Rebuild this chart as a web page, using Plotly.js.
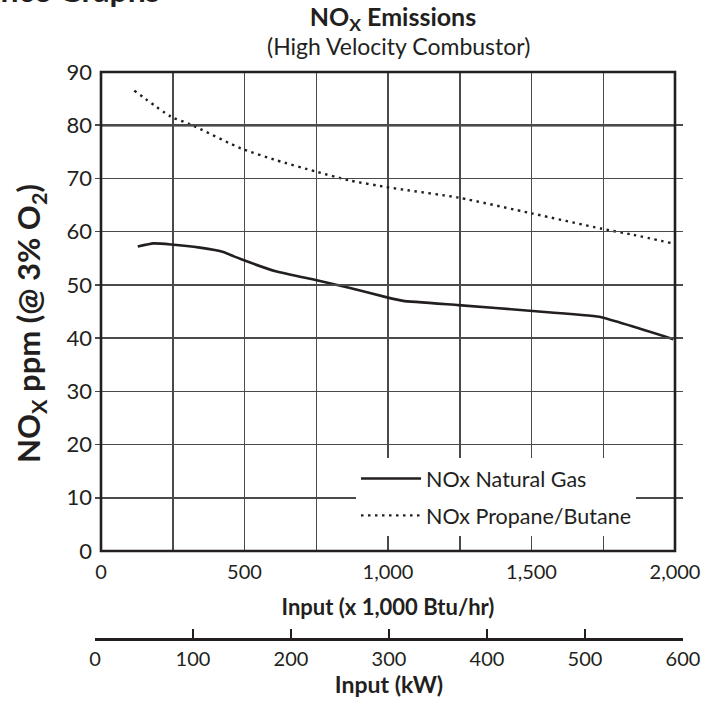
<!DOCTYPE html>
<html>
<head>
<meta charset="utf-8">
<script src="https://cdn.plot.ly/plotly-3.0.1.min.js"></script>
<style>html,body{margin:0;padding:0;background:#fff;}#chart{width:721px;height:704px;}</style>
</head>
<body>
<div id="chart"></div>
<script>
// ---- Data ----
const inputNaturalGas = [128, 182, 244, 345, 426, 461, 489, 612, 748, 868, 993, 1053, 1245, 1504, 1736, 1994];
const noxNaturalGas   = [57.2, 57.8, 57.6, 57.0, 56.2, 55.4, 54.8, 52.5, 50.9, 49.4, 47.7, 47.0, 46.2, 45.1, 44.0, 39.8];

const inputPropane = [116, 244, 310, 489, 612, 748, 868, 993, 1053, 1245, 1504, 1741, 1855, 1992];
const noxPropane   = [86.5, 81.6, 80.2, 75.6, 73.4, 71.3, 69.6, 68.4, 67.9, 66.4, 63.4, 60.6, 59.4, 57.8];

const btuTickVals  = [0, 500, 1000, 1500, 2000];
const btuTickText  = ['0', '500', '1,000', '1,500', '2,000'];
const kwTickVals   = [0, 100, 200, 300, 400, 500, 600];
const kwTickText   = ['0', '100', '200', '300', '400', '500', '600'];
const noxTickVals  = [0, 10, 20, 30, 40, 50, 60, 70, 80, 90];

const seriesNames = ['NOx Natural Gas', 'NOx Propane/Butane'];
const emphasisLevel = 80;

// ---- Styling ----
const ink = '#231f20';
const gridColor = '#4a4a4a';
const FONT = 'Lato, "Open Sans", sans-serif';

const traces = [
  {
    x: inputNaturalGas, y: noxNaturalGas, name: seriesNames[0], legendgroup: 'a',
    mode: 'lines', line: {color: ink, width: 2.6, shape: 'spline', smoothing: 0.35},
    xaxis: 'x', yaxis: 'y', hoverinfo: 'skip'
  },
  {
    x: inputPropane, y: noxPropane, name: seriesNames[1], legendgroup: 'b',
    mode: 'lines', line: {color: ink, width: 2.4, dash: '2.5px,4.5px', shape: 'spline', smoothing: 0.6},
    xaxis: 'x', yaxis: 'y', hoverinfo: 'skip'
  },
  {
    x: [kwTickVals[0], kwTickVals[kwTickVals.length - 1]], y: [null, null],
    xaxis: 'x2', yaxis: 'y', mode: 'lines', showlegend: false, hoverinfo: 'skip'
  }
];

const layout = {
  width: 721, height: 704,
  margin: {l: 95, r: 38, t: 72, b: 65, pad: 0},
  paper_bgcolor: '#ffffff', plot_bgcolor: 'rgba(0,0,0,0)',
  font: {family: FONT, color: ink, size: 20},
  showlegend: true,
  title: {
    text: '<b>NO<sub>X</sub> Emissions</b>',
    font: {family: FONT, size: 25, color: ink},
    x: (393 - 95) / 588, xref: 'paper', xanchor: 'center',
    y: 1 - 17 / 704, yref: 'container', yanchor: 'middle'
  },
  xaxis: {
    domain: [6/588, 580/588],
    range: [0, 2000],
    tickmode: 'array', tickvals: btuTickVals, ticktext: btuTickText,
    showgrid: true, gridcolor: gridColor, gridwidth: 1.5,
    minor: {dtick: 250, tick0: 0, showgrid: true, gridcolor: gridColor, gridwidth: 1.5, ticks: ''},
    zeroline: false,
    showline: false,
    ticks: '', ticklabelstandoff: 7,
    tickfont: {family: FONT, size: 20, color: ink},
    title: {text: '<b>Input (x 1,000 Btu/hr)</b>', font: {family: FONT, size: 22, color: ink}, standoff: 17},
    automargin: false, fixedrange: true
  },
  xaxis2: {
    domain: [0, 1],
    range: [0, 600],
    anchor: 'free', position: 0, side: 'bottom',
    tickmode: 'array', tickvals: kwTickVals, ticktext: kwTickText,
    showgrid: false, zeroline: false,
    showline: true, linecolor: ink, linewidth: 2.6,
    ticks: 'inside', ticklen: 9, tickwidth: 2.6, tickcolor: ink,
    ticklabelstandoff: 1,
    tickfont: {family: FONT, size: 20, color: ink},
    title: {text: '<b>Input (kW)</b>', font: {family: FONT, size: 23, color: ink}, standoff: 2},
    automargin: false, fixedrange: true
  },
  yaxis: {
    domain: [88/567, 1],
    range: [0, 90],
    tickmode: 'array', tickvals: noxTickVals,
    showgrid: true, gridcolor: gridColor, gridwidth: 1.5,
    zeroline: false,
    showline: false,
    ticks: '', ticklabelstandoff: 8,
    tickfont: {family: FONT, size: 22, color: ink},
    automargin: false, fixedrange: true
  },
  legend: {
    x: (636 - 95) / 588, xanchor: 'right', xref: 'paper',
    y: (639 - 536) / 567, yanchor: 'bottom', yref: 'paper',
    bgcolor: '#ffffff', borderwidth: 0,
    font: {family: FONT, size: 21.5, color: ink},
    tracegroupgap: 6, itemwidth: 60
  },
  shapes: [
    {type: 'line', xref: 'x domain', x0: 0, x1: 1, yref: 'y', y0: emphasisLevel, y1: emphasisLevel,
     line: {color: ink, width: 2.6}, layer: 'below'},
    {type: 'rect', xref: 'x domain', x0: 0, x1: 1, yref: 'y domain', y0: 0, y1: 1,
     line: {color: ink, width: 2.6}, fillcolor: 'rgba(0,0,0,0)', layer: 'above'}
  ],
  annotations: [
    {text: '(High Velocity Combustor)', xref: 'paper', yref: 'paper',
     x: (398 - 95) / 588, y: 1 + (72 - 62) / 567, xanchor: 'center', yanchor: 'bottom',
     showarrow: false, font: {family: FONT, size: 23, color: ink}},
    {text: '<b>NO<sub>X</sub> ppm (@ 3% O<sub>2</sub>)</b>', xref: 'paper', yref: 'paper',
     x: (30 - 95) / 588, y: (639 - 324) / 567, xanchor: 'center', yanchor: 'middle',
     textangle: -90, showarrow: false, font: {family: FONT, size: 31, color: ink}},
    {text: '<b>Performance Graphs</b>', xref: 'paper', yref: 'paper',
     x: (162 - 95) / 588, y: 1 + (72 - 11) / 567, xanchor: 'right', yanchor: 'bottom',
     showarrow: false, font: {family: FONT, size: 32, color: ink}}
  ]
};

Plotly.newPlot('chart', traces, layout, {displayModeBar: false, staticPlot: true});
</script>
</body>
</html>
